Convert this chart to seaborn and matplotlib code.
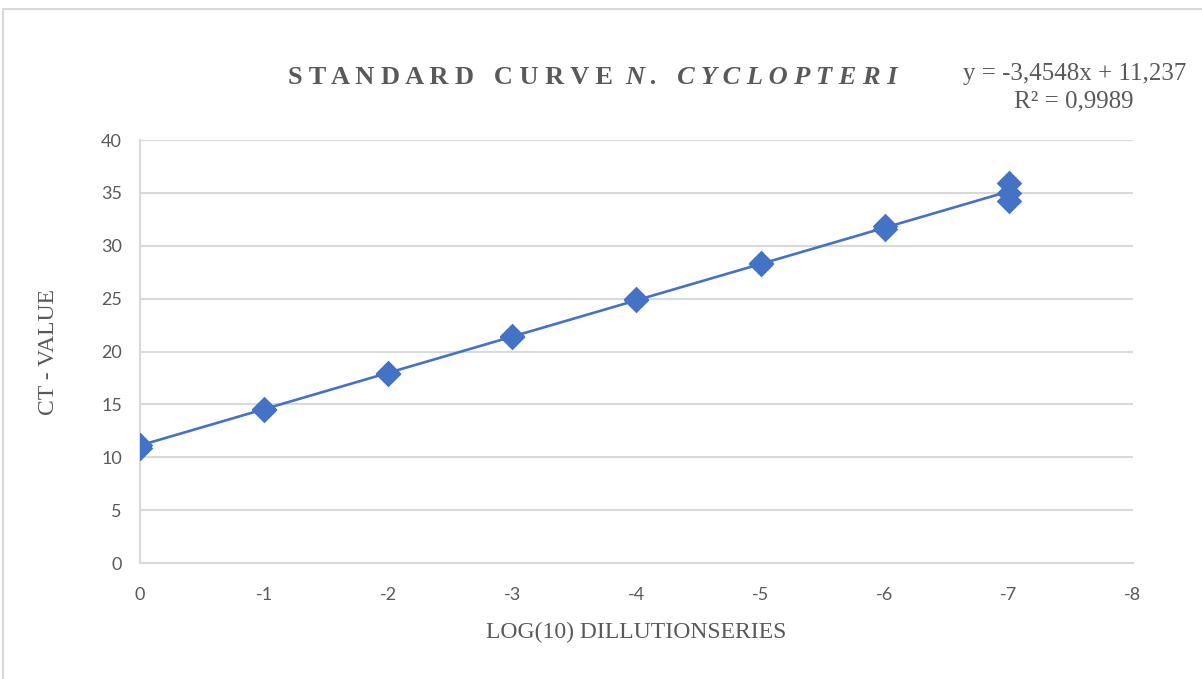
"""
Standard curve for N. cyclopteri qPCR dilution series
"""

import matplotlib
matplotlib.use('Agg')
import matplotlib.pyplot as plt
from matplotlib.patches import Rectangle
import seaborn as sns
import pandas as pd

# dilution steps (log10) with replicate Ct values
log_dilution = [0, 0, -1, -1, -2, -2, -3, -3, -4, -4, -5, -5, -6, -6, -7, -7, -7]
ct_value = [11.2, 10.9, 14.5, 14.6, 17.9, 18.0, 21.4, 21.5, 24.9, 25.0,
            28.3, 28.4, 31.6, 31.9, 35.9, 35.0, 34.2]

x_ticks = [0, -1, -2, -3, -4, -5, -6, -7, -8]
y_ticks = [0, 5, 10, 15, 20, 25, 30, 35, 40]

equation = 'y = -3,4548x + 11,237'
r_squared = 'R² = 0,9989'

df = pd.DataFrame({'log': log_dilution, 'ct': ct_value})

sns.set_style('white')
plt.rcParams['font.family'] = ['Liberation Serif', 'DejaVu Serif']
plt.rcParams['axes.unicode_minus'] = False

blue = '#4472C4'
grey_text = '#595959'
grid_col = '#d9d9d9'

fig = plt.figure(figsize=(12.02, 6.79), dpi=100)
ax = fig.add_axes([0.1165, 0.1708, 0.826, 0.623])

sns.regplot(data=df, x='log', y='ct', ax=ax, ci=None, truncate=True,
            marker='D', color=blue,
            scatter_kws={'s': 170, 'edgecolor': blue, 'linewidths': 0, 'zorder': 4, 'alpha': 1},
            line_kws={'linewidth': 1.9, 'zorder': 3})

ax.set_xlim(0, -8)
ax.set_ylim(0, 40)
ax.set_xticks(x_ticks)
ax.set_yticks(y_ticks)
ax.yaxis.grid(True, color=grid_col, linewidth=1.5)
ax.set_axisbelow(True)
for side in ['top', 'right']:
    ax.spines[side].set_visible(False)
for side in ['left', 'bottom']:
    ax.spines[side].set_color(grid_col)
    ax.spines[side].set_linewidth(1.5)
ax.tick_params(axis='x', length=0, pad=17, labelsize=13, labelcolor=grey_text)
ax.tick_params(axis='y', length=0, pad=13, labelsize=13, labelcolor=grey_text)
for lbl in ax.get_xticklabels() + ax.get_yticklabels():
    lbl.set_family(['Lato', 'DejaVu Sans'])
ax.set_xlabel('LOG(10) DILLUTIONSERIES', fontsize=17, color=grey_text, labelpad=14)
ax.set_ylabel('CT - VALUE', fontsize=17, color=grey_text, labelpad=30)

# title in two parts, spaced letters, species name italic
title_y = 1 - 77 / 679
part1 = fig.text(288 / 1202, title_y, 'S T A N D A R D   C U R V E', fontsize=19,
                 fontweight='bold', color=grey_text, va='center', ha='left')
fig.canvas.draw()
bb = part1.get_window_extent()
fig.text((bb.x1 + 12) / fig.bbox.width, title_y, 'N .   C Y C L O P T E R I', fontsize=19,
         fontweight='bold', fontstyle='italic', color=grey_text, va='center', ha='left')

# trendline equation
fig.text(1186 / 1202, 1 - 74 / 679, equation, fontsize=18, color=grey_text,
         ha='right', va='center')
fig.text(1134 / 1202, 1 - 101 / 679, r_squared, fontsize=18, color=grey_text,
         ha='right', va='center')

# chart border
fig.patches.append(Rectangle((3 / 1202, -0.1), 1.2, 1 - 9 / 679 + 0.1,
                             transform=fig.transFigure, fill=False,
                             edgecolor=grid_col, linewidth=1.5))

fig.savefig('out.png', dpi=100)
plt.close(fig)
